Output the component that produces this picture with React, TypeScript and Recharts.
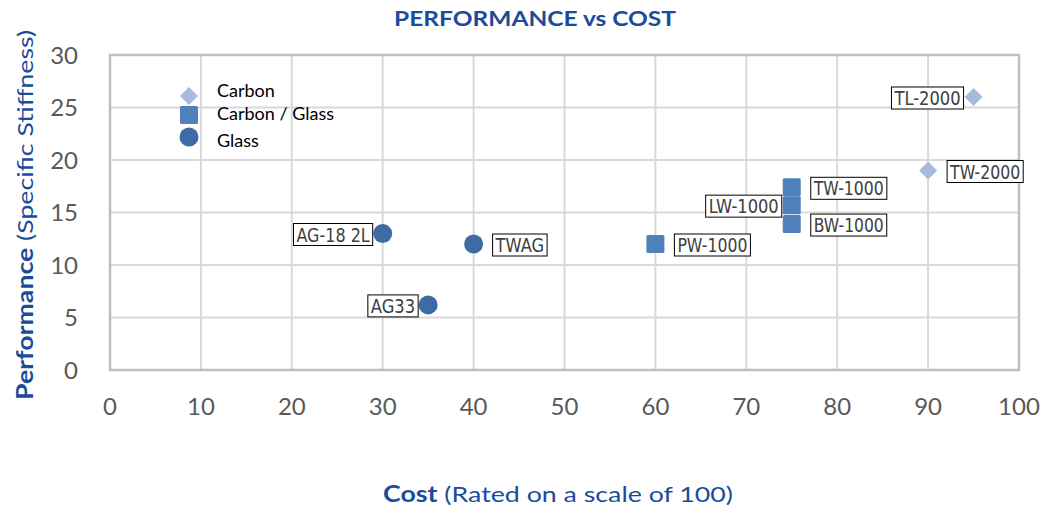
import { ScatterChart, Scatter, XAxis, YAxis, CartesianGrid, ReferenceArea } from 'recharts';

// values
const carbonPoints = [
  { cost: 95, perf: 26, name: 'TL-2000' },
  { cost: 90, perf: 19, name: 'TW-2000' },
];
const carbonGlassPoints = [
  { cost: 60, perf: 12, name: 'PW-1000' },
  { cost: 75, perf: 17.4, name: 'TW-1000' },
  { cost: 75, perf: 15.7, name: 'LW-1000' },
  { cost: 75, perf: 13.9, name: 'BW-1000' },
];
const glassPoints = [
  { cost: 30, perf: 13, name: 'AG-18 2L' },
  { cost: 40, perf: 12, name: 'TWAG' },
  { cost: 35, perf: 6.2, name: 'AG33' },
];
const xTicks = [0, 10, 20, 30, 40, 50, 60, 70, 80, 90, 100];
const yTicks = [0, 5, 10, 15, 20, 25, 30];
const seriesNames = ['Carbon', 'Carbon / Glass', 'Glass'];

// which side of the marker each label box sits on
const labelLeft = ['TL-2000', 'AG-18 2L', 'AG33', 'LW-1000'];

const COLORS = {
  carbon: '#a7b9dc',
  carbonGlass: '#4f81bd',
  glass: '#3f6ba4',
  title: '#1b4c9b',
  tick: '#595959',
  grid: '#d9d9d9',
  border: '#bfbfbf',
};

const charW: Record<string, number> = { W: 13.5, G: 11, A: 10.5, T: 9.5, L: 9.5, '-': 5.5, ' ': 4.5 };
const textWidth = (s: string) => s.split('').reduce((w, c) => w + (charW[c] ?? 9.4), 0);

function marker(kind: string, cx: number, cy: number, color: string) {
  if (kind === 'diamond') {
    return <polygon points={`${cx},${cy - 9} ${cx + 9},${cy} ${cx},${cy + 9} ${cx - 9},${cy}`} fill={color} />;
  }
  if (kind === 'square') {
    return <rect x={cx - 9} y={cy - 9} width={18} height={18} rx={1.5} fill={color} />;
  }
  return <circle cx={cx} cy={cy} r={9.5} fill={color} />;
}

function makeShape(kind: string, color: string) {
  return (props: any) => {
    const { cx, cy, payload } = props;
    const name: string = payload.name;
    const w = textWidth(name) + 10;
    const h = 22;
    const left = labelLeft.includes(name);
    const bx = left ? cx - 10 - w : cx + 19;
    const by = cy - h / 2 + 1;
    return (
      <g>
        {marker(kind, cx, cy, color)}
        <rect x={bx} y={by} width={w} height={h} fill="#fff" stroke="#000" strokeWidth={1} />
        <text
          x={bx + 3}
          y={by + h / 2 + 7}
          fontFamily="'Liberation Sans Narrow', 'DejaVu Sans Condensed', 'Liberation Sans', sans-serif"
          fontSize={19}
          fill="#404040"
          textLength={w - 6}
          lengthAdjust="spacingAndGlyphs"
        >
          {name}
        </text>
      </g>
    );
  };
}

export default function App() {
  const font = "Lato, 'Open Sans', sans-serif";
  return (
    <div style={{ position: 'absolute', left: 0, top: 0, width: 1046, height: 510, background: '#fff' }}>
      <ScatterChart width={1046} height={510} margin={{ top: 55, right: 27, bottom: 90, left: 30 }}>
        <CartesianGrid stroke={COLORS.grid} strokeWidth={2} />
        <XAxis
          type="number"
          dataKey="cost"
          domain={[0, 100]}
          ticks={xTicks}
          height={50}
          tickSize={0}
          tickMargin={28}
          axisLine={false}
          tick={{ fill: COLORS.tick, fontSize: 24, fontFamily: font }}
        />
        <YAxis
          type="number"
          dataKey="perf"
          domain={[0, 30]}
          ticks={yTicks}
          width={80}
          tickSize={0}
          tickMargin={32}
          axisLine={false}
          tick={{ fill: COLORS.tick, fontSize: 24, fontFamily: font }}
        />
        <ReferenceArea x1={0} x2={100} y1={0} y2={30} fill="none" fillOpacity={0} stroke={COLORS.border} strokeWidth={2.5} />
        <Scatter name="Carbon" data={carbonPoints} shape={makeShape('diamond', COLORS.carbon)} isAnimationActive={false} />
        <Scatter name="Carbon / Glass" data={carbonGlassPoints} shape={makeShape('square', COLORS.carbonGlass)} isAnimationActive={false} />
        <Scatter name="Glass" data={glassPoints} shape={makeShape('circle', COLORS.glass)} isAnimationActive={false} />
      </ScatterChart>
      <svg
        width={1046}
        height={510}
        style={{ position: 'absolute', left: 0, top: 0, pointerEvents: 'none' }}
      >
        <text x={535} y={26} textAnchor="middle" fontFamily={font} fontWeight="bold" fontSize={21} fill={COLORS.title} textLength={282} lengthAdjust="spacingAndGlyphs">
          PERFORMANCE vs COST
        </text>
        <g>
          {marker('diamond', 189, 96, COLORS.carbon)}
          {marker('square', 189, 115, COLORS.carbonGlass)}
          {marker('circle', 189, 137, COLORS.glass)}
          {seriesNames.map((s, i) => (
            <text key={s} x={217} y={[97, 120, 147][i]} fontFamily={font} fontSize={18} fill="#000">
              {s}
            </text>
          ))}
        </g>
        <text x={558} y={502} textAnchor="middle" fontFamily={font} fontSize={22} fill={COLORS.title} textLength={350} lengthAdjust="spacingAndGlyphs">
          <tspan fontWeight="bold">Cost</tspan>
          <tspan> (Rated on a scale of 100)</tspan>
        </text>
        <text
          transform="translate(33, 215) rotate(-90)"
          textAnchor="middle"
          fontFamily={font}
          fontSize={22}
          fill={COLORS.title}
          textLength={370}
          lengthAdjust="spacingAndGlyphs"
        >
          <tspan fontWeight="bold">Performance</tspan>
          <tspan> (Specific Stiffness)</tspan>
        </text>
      </svg>
    </div>
  );
}
